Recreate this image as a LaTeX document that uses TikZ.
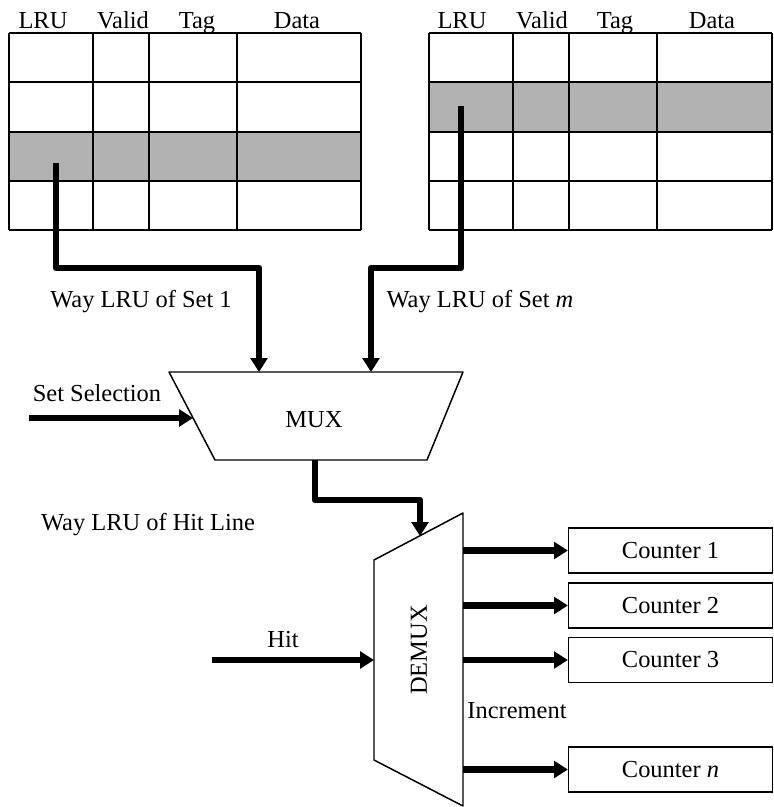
\documentclass[tikz,border=0pt]{standalone}
\usepackage{fontspec}
\setmainfont{Liberation Serif}
\usetikzlibrary{arrows.meta}

\begin{document}
\begin{tikzpicture}[x=0.54pt, y=-0.54pt,
  every node/.style={font=\fontsize{13.2}{15}\selectfont},
  grid/.style={line width=0.8pt},
  bus/.style={line width=3.6pt, line join=round, -{Triangle[length=7.5pt,width=9pt]}},
  block/.style={draw, line width=0.8pt, line join=round, fill=white},
  counter/.style={draw, line width=0.8pt, minimum width=110pt, minimum height=24.3pt, inner sep=0pt}]
\useasboundingbox (0,0) rectangle (773,807);

% cache tables
\fill[gray!60] (9,132) rectangle (361,181);
\fill[gray!60] (429,82) rectangle (772,132);
\foreach \x in {9,93,149,237,361} \draw[grid] (\x,33) -- (\x,230);
\foreach \x in {429,513,569,657,772} \draw[grid] (\x,33) -- (\x,230);
\foreach \y in {33,82,132,181,230} {
  \draw[grid] (9,\y) -- (361,\y);
  \draw[grid] (429,\y) -- (772,\y);
}
\foreach \x/\t/\n in {43/LRU/lru, 123/Valid/valid, 197/Tag/tag, 297/Data/data}
  \node[anchor=base] (hl\n) at (\x,28) {\t};
\foreach \x/\t/\n in {462/LRU/lru, 542/Valid/valid, 615/Tag/tag, 712/Data/data}
  \node[anchor=base] (hr\n) at (\x,28) {\t};

\coordinate (lru1) at (56,163);
\coordinate (lrum) at (461,106);

% mux
\draw[block] (169,372) -- (463,372) -- (427,460) -- (215,460) -- cycle;
\node (mux) at (314,420) {MUX};
\coordinate (mux1) at (259,372);
\coordinate (muxm) at (371,372);
\coordinate (muxsel) at (193,418);
\coordinate (muxout) at (315,460);
\coordinate (sel) at (29,418);

\draw[bus] (lru1) -- ++(0,105) -| (mux1);
\draw[bus] (lrum) -- ++(0,162) -| (muxm);
\draw[bus] (sel) -- (muxsel);
\node (way1) at (141,302) {Way LRU of Set 1};
\node (waym) at (480,302) {Way LRU of Set \textit{m}};
\node (setsel) at (97,393) {Set Selection};

% demux
\draw[block] (374,560) -- (463,513) -- (463,806) -- (374,760) -- cycle;
\node[rotate=90] (demux) at (419,650) {DEMUX};
\coordinate (dmxin) at (420,536);
\coordinate (dmxhit) at (374,660);
\coordinate (hit) at (212,660);

\draw[bus] (muxout) -- ++(0,40) -| (dmxin);
\draw[bus] (hit) -- (dmxhit);
\node (hitline) at (148,525) {Way LRU of Hit Line};
\node (hitlbl) at (283,640) {Hit};

% counters
\node[counter] (cnt1) at (670.5,550.5) {Counter 1};
\node[counter] (cnt2) at (670.5,605.5) {Counter 2};
\node[counter] (cnt3) at (670.5,660) {Counter 3};
\node[counter] (cntn) at (670.5,769.5) {Counter \textit{n}};
\foreach \c in {cnt1,cnt2,cnt3,cntn}
  \draw[bus] (463,0 |- \c.west) -- (\c.west);
\node (incr) at (517,711) {Increment};
\end{tikzpicture}
\end{document}
